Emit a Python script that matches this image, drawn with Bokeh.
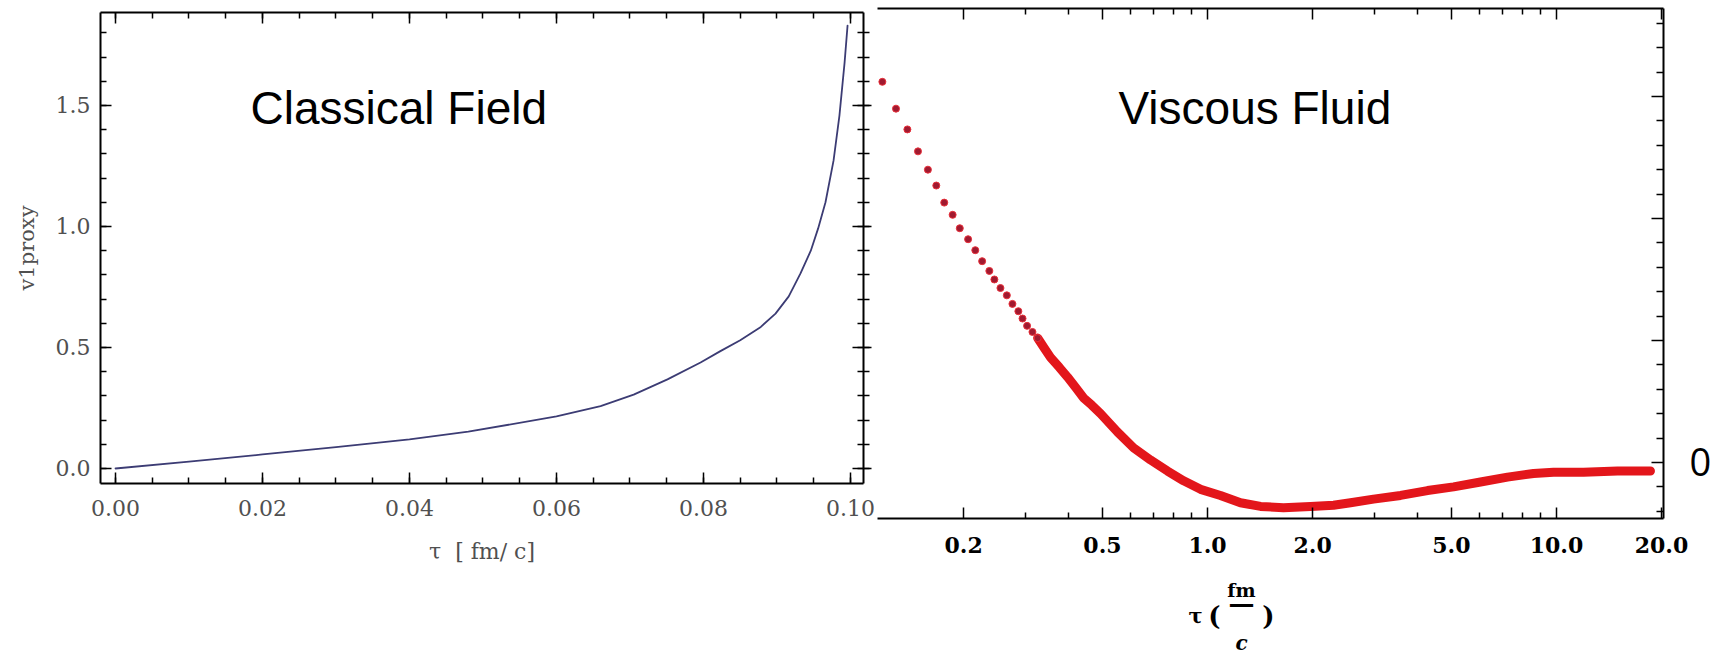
from bokeh.plotting import figure
from bokeh.layouts import row, column
from bokeh.models import (Range1d, LinearAxis, LogAxis, SingleIntervalTicker, FixedTicker,
                          PrintfTickFormatter, CustomJSTickFormatter, Label)
from bokeh.embed import file_html
from bokeh.resources import INLINE

# ---------------- data ----------------
# Left panel: Classical Field, v1proxy vs tau [fm/c]
tau_cf = [0.0, 0.01, 0.02, 0.03, 0.04, 0.048, 0.06, 0.066, 0.0705, 0.0751, 0.0796,
          0.0823, 0.0850, 0.0878, 0.0898, 0.0916, 0.0932, 0.0946, 0.0956, 0.0966,
          0.0977, 0.0985, 0.0992, 0.0996]
v1_cf = [0.0, 0.028, 0.058, 0.088, 0.12, 0.152, 0.215, 0.258, 0.305, 0.368, 0.438,
         0.485, 0.530, 0.585, 0.640, 0.711, 0.806, 0.900, 0.992, 1.100,
         1.273, 1.459, 1.678, 1.830]

# Right panel: Viscous Fluid, separate early points (log tau axis)
tau_dots = [0.117, 0.128, 0.138, 0.148, 0.158, 0.167, 0.176, 0.186, 0.195, 0.206, 0.216,
            0.226, 0.237, 0.245, 0.255, 0.266, 0.276, 0.287, 0.295, 0.304, 0.315, 0.326]
v_dots = [0.312, 0.290, 0.273, 0.255, 0.240, 0.227, 0.213, 0.203, 0.192, 0.183, 0.174,
          0.165, 0.157, 0.150, 0.143, 0.137, 0.130, 0.124, 0.118, 0.112, 0.107, 0.102]
# dense part of the same series (points merge into a band)
tau_band = [0.326, 0.340, 0.355, 0.376, 0.397, 0.420, 0.441, 0.466, 0.494, 0.552, 0.614,
            0.687, 0.768, 0.854, 0.955, 1.089, 1.243, 1.419, 1.651, 1.973, 2.296, 2.569,
            2.990, 3.573, 4.270, 5.069, 6.058, 7.237, 8.593, 9.804, 11.95, 14.96, 18.59]
v_band = [0.102, 0.094, 0.086, 0.078, 0.070, 0.061, 0.053, 0.047, 0.040, 0.025, 0.012,
          0.002, -0.007, -0.015, -0.022, -0.027, -0.033, -0.036, -0.037, -0.036, -0.035,
          -0.033, -0.030, -0.027, -0.023, -0.020, -0.016, -0.012, -0.009, -0.008, -0.008,
          -0.007, -0.007]

log_major = [0.2, 0.5, 1.0, 2.0, 5.0, 10.0, 20.0]
log_minor = [0.3, 0.4, 0.6, 0.7, 0.8, 0.9, 3.0, 4.0, 6.0, 7.0, 8.0, 9.0]
right_major = [0.0, 0.1, 0.2, 0.3]
right_minor = [-0.04, -0.02, 0.02, 0.04, 0.06, 0.08, 0.12, 0.14, 0.16, 0.18,
               0.22, 0.24, 0.26, 0.28, 0.32, 0.34, 0.36]

SERIF = "DejaVu Serif"
GREY = "#505050"
NB = "\u00a0"


def ticks_in(ax, major_in=11, minor_in=6, major_out=0, minor_out=0):
    ax.major_tick_in = major_in
    ax.major_tick_out = major_out
    ax.minor_tick_in = minor_in
    ax.minor_tick_out = minor_out
    ax.axis_line_color = "black"
    ax.axis_line_width = 2
    ax.major_tick_line_color = "black"
    ax.major_tick_line_width = 1.5
    ax.minor_tick_line_color = "black"
    ax.minor_tick_line_width = 1.5


def hide_labels(ax):
    ax.major_label_text_color = None
    ax.major_label_text_font_size = "1px"
    ax.major_label_standoff = 0
    ax.axis_label = None


# ---------------- left figure ----------------
left = figure(width=877, height=658, output_backend="svg", toolbar_location=None,
              x_range=Range1d(-0.00204, 0.10177), y_range=Range1d(-0.062, 1.884),
              min_border_left=100, min_border_right=14, min_border_top=12,
              min_border_bottom=175)
left.outline_line_color = None
left.grid.visible = False

xb = left.xaxis[0]
xb.ticker = SingleIntervalTicker(interval=0.02, num_minor_ticks=4)
xb.formatter = PrintfTickFormatter(format="%.2f")
ticks_in(xb)
xb.major_label_text_font = SERIF
xb.major_label_text_font_size = "22px"
xb.major_label_text_color = GREY
xb.major_label_standoff = 16
xb.axis_label = "τ" + NB + NB + "[" + NB + "fm/" + NB + "c]"
xb.axis_label_text_font = SERIF
xb.axis_label_text_font_size = "22px"
xb.axis_label_text_font_style = "normal"
xb.axis_label_text_color = GREY
xb.axis_label_standoff = 20

yl = left.yaxis[0]
yl.ticker = SingleIntervalTicker(interval=0.5, num_minor_ticks=5)
yl.formatter = PrintfTickFormatter(format="%.1f")
ticks_in(yl)
yl.major_label_text_font = SERIF
yl.major_label_text_font_size = "22px"
yl.major_label_text_color = GREY
yl.major_label_standoff = 10
yl.axis_label = "v1proxy"
yl.axis_label_text_font = SERIF
yl.axis_label_text_font_size = "21px"
yl.axis_label_text_font_style = "normal"
yl.axis_label_text_color = GREY
yl.axis_label_standoff = 14

xt = LinearAxis(ticker=SingleIntervalTicker(interval=0.02, num_minor_ticks=4))
ticks_in(xt)
hide_labels(xt)
left.add_layout(xt, "above")

yr = LinearAxis(ticker=SingleIntervalTicker(interval=0.5, num_minor_ticks=5))
ticks_in(yr, major_in=11, minor_in=6, major_out=8, minor_out=6)
hide_labels(yr)
left.add_layout(yr, "right")

left.line(tau_cf, v1_cf, line_color="#3c3c74", line_width=1.8,
          line_join="round", line_cap="round")

left.add_layout(Label(x=150, y=376, x_units="screen", y_units="screen",
                      text="Classical Field", text_font="Liberation Sans",
                      text_font_size="46px", text_color="black",
                      text_baseline="alphabetic", text_align="left"))

# ---------------- right figure ----------------
right = figure(width=848, height=575, output_backend="svg", toolbar_location=None,
               x_axis_type="log", x_range=Range1d(0.1133, 20.26),
               y_range=Range1d(-0.0459, 0.3721), y_axis_location="right",
               min_border_left=0, min_border_right=62, min_border_top=8,
               min_border_bottom=57)
right.outline_line_color = None
right.grid.visible = False

xb2 = right.xaxis[0]
xb2.ticker = FixedTicker(ticks=log_major, minor_ticks=log_minor)
xb2.formatter = PrintfTickFormatter(format="%.1f")
ticks_in(xb2)
xb2.major_label_text_font = SERIF
xb2.major_label_text_font_size = "22px"
xb2.major_label_text_font_style = "bold"
xb2.major_label_text_color = "black"
xb2.major_label_standoff = 18

xt2 = LogAxis(ticker=FixedTicker(ticks=log_major, minor_ticks=log_minor))
ticks_in(xt2)
hide_labels(xt2)
right.add_layout(xt2, "above")

yr2 = right.yaxis[0]
yr2.ticker = FixedTicker(ticks=right_major, minor_ticks=right_minor)
yr2.formatter = CustomJSTickFormatter(code="return Math.abs(tick) < 1e-9 ? '0' : '';")
ticks_in(yr2, major_in=12, minor_in=7)
yr2.major_label_text_font = "Open Sans"
yr2.major_label_text_font_size = "38px"
yr2.major_label_text_color = "black"
yr2.major_label_standoff = 26

right.line(tau_band, v_band, line_color="#e3161b", line_width=9,
           line_cap="round", line_join="round")
right.scatter(tau_dots, v_dots, size=7, fill_color="#a01a30", line_color="#e8303a",
              line_width=1)

right.add_layout(Label(x=241, y=411, x_units="screen", y_units="screen",
                       text="Viscous Fluid", text_font="Liberation Sans",
                       text_font_size="46px", text_color="black",
                       text_baseline="alphabetic", text_align="left"))

# ---------------- x-axis title of the right panel: tau ( fm / c ) ----------------
title_fig = figure(width=848, height=83, output_backend="svg", toolbar_location=None,
                   x_range=Range1d(0, 848), y_range=Range1d(0, 83),
                   min_border_left=0, min_border_right=0, min_border_top=0,
                   min_border_bottom=0, x_axis_location=None, y_axis_location=None)
title_fig.outline_line_color = None
title_fig.grid.visible = False


def lab(x, y, t, size="20px", style="bold"):
    title_fig.add_layout(Label(x=x, y=y, x_units="screen", y_units="screen", text=t,
                               text_font=SERIF, text_font_size=size,
                               text_font_style=style, text_color="black",
                               text_align="center", text_baseline="middle"))


lab(318, 43, "τ", "21px", "bold")
lab(337, 43, "(", "26px", "bold")
lab(364, 69, "fm", "19px", "bold")
lab(364, 56, "—", "26px", "bold")
lab(364, 16, "c", "20px", "bold italic")
lab(391, 43, ")", "26px", "bold")

layout = row(left, column(right, title_fig))
open("out.html", "w").write(file_html(layout, INLINE))
